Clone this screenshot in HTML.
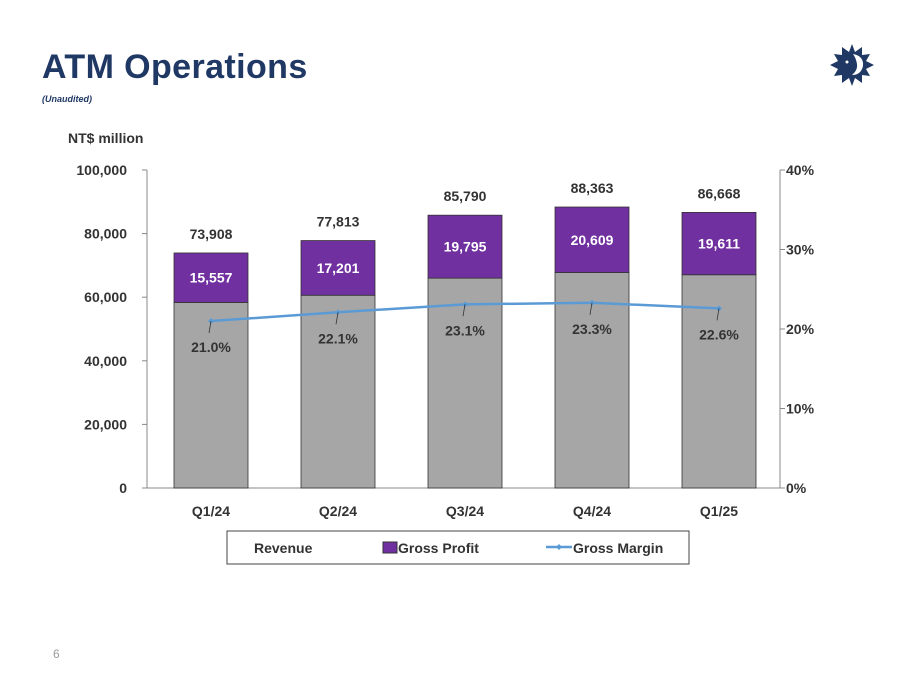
<!DOCTYPE html>
<html><head><meta charset="utf-8"><style>
body{margin:0;width:903px;height:697px;background:#fff;font-family:"Liberation Sans",sans-serif;overflow:hidden;position:relative}
.t{position:absolute}
</style></head><body>
<div class="t" style="left:42px;top:48px;font-size:34px;font-weight:bold;color:#1F3864;letter-spacing:0.4px">ATM Operations</div>
<div class="t" style="left:42px;top:94px;font-size:9px;font-weight:bold;font-style:italic;color:#1F3864">(Unaudited)</div>
<svg class="t" style="left:828px;top:42px" width="48" height="46" viewBox="0 0 48 46">
<polygon points="24,2 27,10 34,5 34,13 42,12 38,19 46,23 38,27 42,34 34,33 34,41 27,36 24,44 21,36 14,41 14,33 6,34 10,27 2,23 10,19 6,12 14,13 14,5 21,10" fill="#1F3864"/>
<path d="M25,12 Q36,14 35,24 Q33,33 24,33 Q30,28 29,22 Q28,16 25,12Z" fill="#fff"/>
<circle cx="19" cy="20" r="1.5" fill="#fff"/></svg>
<svg class="t" style="left:0;top:0" width="903" height="697">
<g id="g"></g></svg>
<div class="t" style="left:53px;top:647px;font-size:12px;color:#999">6</div>
<script>
const categories=["Q1/24","Q2/24","Q3/24","Q4/24","Q1/25"];
const revenue=[73908,77813,85790,88363,86668];
const grossProfit=[15557,17201,19795,20609,19611];
const grossMargin=[21.0,22.1,23.1,23.3,22.6];
const leftTicks=[0,20000,40000,60000,80000,100000];
const rightTicks=[0,10,20,30,40];
const g=document.getElementById('g');const NS="http://www.w3.org/2000/svg";
function el(t,a,txt){const e=document.createElementNS(NS,t);for(const k in a)e.setAttribute(k,a[k]);if(txt!==undefined)e.textContent=txt;g.appendChild(e);return e;}
const y0=488,yTop=170,xL=147,xR=780;
const y=v=>y0-(v/100000)*(y0-yTop);
const yp=p=>y0-(p/40)*(y0-yTop);
const xc=i=>211+i*127;
const fmt=v=>v.toLocaleString('en-US');
let e;
e=el('line',{x1:xL,y1:yTop,x2:xL,y2:y0,stroke:'#888'});
e=el('line',{x1:xR,y1:yTop,x2:xR,y2:y0,stroke:'#888'});
e=el('line',{x1:xL,y1:y0,x2:xR,y2:y0,stroke:'#888'});
leftTicks.forEach(v=>{el('line',{x1:xL-5,y1:y(v),x2:xL,y2:y(v),stroke:'#888'});
e=el('text',{x:127,y:y(v)+5,'text-anchor':'end','font-size':14,'font-weight':'bold',fill:'#333'},fmt(v));});
rightTicks.forEach(v=>{el('line',{x1:xR,y1:yp(v),x2:xR+5,y2:yp(v),stroke:'#888'});
e=el('text',{x:786,y:yp(v)+5,'font-size':14,'font-weight':'bold',fill:'#333'},v+'%');});
e=el('text',{x:68,y:143,'font-size':14,'font-weight':'bold',fill:'#333'},'NT$ million');
const bw=74;
categories.forEach((c,i)=>{const x=xc(i)-bw/2;const cost=revenue[i]-grossProfit[i];
e=el('rect',{x:x,y:y(cost),width:bw,height:y0-y(cost),fill:'#A6A6A6',stroke:'#333','stroke-width':0.8});
e=el('rect',{x:x,y:y(revenue[i]),width:bw,height:y(cost)-y(revenue[i]),fill:'#7030A0',stroke:'#333','stroke-width':0.8});
e=el('text',{x:xc(i),y:(y(cost)+y(revenue[i]))/2+5,'text-anchor':'middle','font-size':14,'font-weight':'bold',fill:'#fff'},fmt(grossProfit[i]));
e=el('text',{x:xc(i),y:y(revenue[i])-14,'text-anchor':'middle','font-size':14,'font-weight':'bold',fill:'#333'},fmt(revenue[i]));
e=el('text',{x:xc(i),y:y0+28,'text-anchor':'middle','font-size':14,'font-weight':'bold',fill:'#333'},c);
});
let d='';grossMargin.forEach((m,i)=>{d+=(i?' L':'M')+xc(i)+','+yp(m);});
e=el('path',{d:d,fill:'none',stroke:'#5B9BD5','stroke-width':2.5});
grossMargin.forEach((m,i)=>{e=el('path',{d:`M${xc(i)-3},${yp(m)} L${xc(i)},${yp(m)-3} L${xc(i)+3},${yp(m)} L${xc(i)},${yp(m)+3}Z`,fill:'#5B9BD5'});
el('line',{x1:xc(i),y1:yp(m),x2:xc(i)-2,y2:yp(m)+12,stroke:'#333','stroke-width':0.8});
e=el('text',{x:xc(i),y:yp(m)+31,'text-anchor':'middle','font-size':14,'font-weight':'bold',fill:'#333'},m.toFixed(1)+'%');});
e=el('rect',{x:227,y:531,width:462,height:33,fill:'#fff',stroke:'#444','stroke-width':1});
e=el('text',{x:254,y:553,'font-size':14,'font-weight':'bold',fill:'#333'},'Revenue');
el('rect',{x:383,y:542,width:14,height:11,fill:'#7030A0',stroke:'#333'});
e=el('text',{x:398,y:553,'font-size':14,'font-weight':'bold',fill:'#333'},'Gross Profit');
el('line',{x1:546,y1:547,x2:572,y2:547,stroke:'#5B9BD5','stroke-width':2.5});
el('path',{d:'M556,547 L559,544 L562,547 L559,550Z',fill:'#5B9BD5'});
e=el('text',{x:573,y:553,'font-size':14,'font-weight':'bold',fill:'#333'},'Gross Margin');
</script>
</body></html>
